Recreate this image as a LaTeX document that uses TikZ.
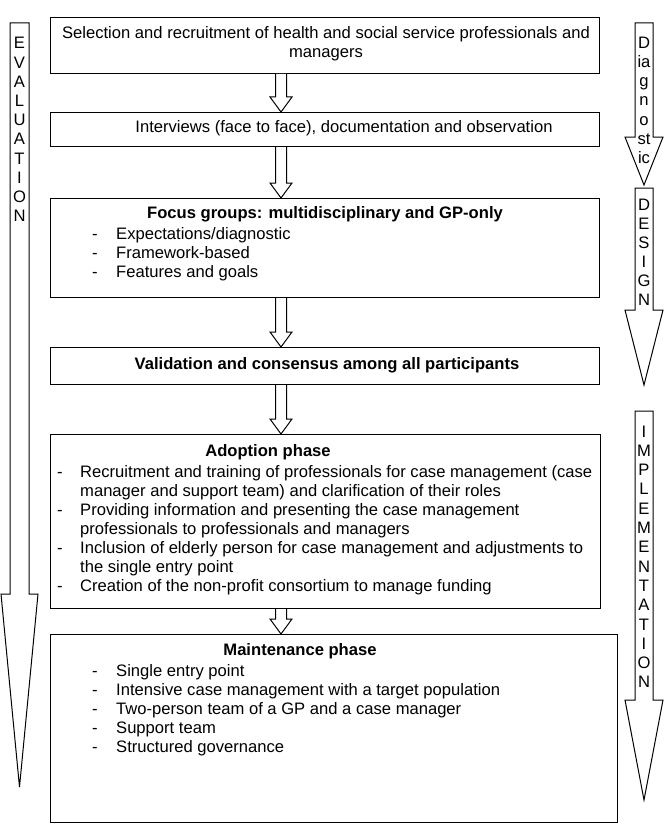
\documentclass[tikz,border=0pt]{standalone}
\usepackage{fontspec}
\setmainfont{Liberation Sans}
\usetikzlibrary{calc}
\newcommand{\fs}{\fontsize{16.6}{19.1}\selectfont}
\tikzset{
  boxst/.style={draw, line width=1pt, inner sep=0pt, anchor=north west},
  txt/.style={inner sep=0pt, font=\fs},
  blk/.style={draw, line width=1pt, fill=white, line join=miter},
}
% hollow block arrow from bottom of node #1 to top of node #2 at x = 281
\newcommand{\blockarr}[2]{%
  \draw[blk] let \p1=(#1.south), \p2=(#2.north) in
    (275.5pt,\y1) -- (275.5pt,\y2+15pt) -- (270pt,\y2+15pt) -- (281pt,\y2)
    -- (292pt,\y2+15pt) -- (286.5pt,\y2+15pt) -- (286.5pt,\y1);
}
\begin{document}
\begin{tikzpicture}[x=1pt,y=-1pt]
\useasboundingbox (0,0) rectangle (664,824);
\fill[white] (0,0) rectangle (664,824);

% ---- boxes
\node[boxst, minimum width=549pt, minimum height=56pt] (b1) at (50,17) {};
\node[boxst, minimum width=549pt, minimum height=34pt] (b2) at (50,112) {};
\node[boxst, minimum width=549pt, minimum height=99pt] (b3) at (50,198) {};
\node[boxst, minimum width=549pt, minimum height=37pt] (b4) at (50,347) {};
\node[boxst, minimum width=550pt, minimum height=174pt] (b5) at (50,434) {};
\node[boxst, minimum width=567pt, minimum height=188pt] (b6) at (50,634) {};

% ---- texts
\node[txt, align=center] (t1) at (326,44)
  {Selection and recruitment of health and social service professionals and\\managers};
\node[txt] (t2) at (344,128) {Interviews (face to face), documentation and observation};
\node[txt, font=\fs\bfseries] (t3) at (325,214) {Focus groups: multidisciplinary and GP-only};
\node[txt, anchor=base west] (t3l) at (92,239) {%
  \begin{tabular}[t]{@{}p{24pt}@{}l@{}}
  -&Expectations/diagnostic\\
  -&Framework-based\\
  -&Features and goals
  \end{tabular}};
\node[txt, font=\fs\bfseries] (t5) at (268,452) {Adoption phase};
\node[txt, font=\fs\bfseries] (t4) at (327,365) {Validation and consensus among all participants};
\node[txt, anchor=base west] (t5l) at (57,477) {%
  \begin{tabular}[t]{@{}p{23pt}@{}l@{}}
  -&Recruitment and training of professionals for case management (case\\
   &manager and support team) and clarification of their roles\\
  -&Providing information and presenting the case management\\
   &professionals to professionals and managers\\
  -&Inclusion of elderly person for case management and adjustments to\\
   &the single entry point\\
  -&Creation of the non-profit consortium to manage funding
  \end{tabular}};
\node[txt, font=\fs\bfseries] (t6) at (300,651) {Maintenance phase};
\node[txt, anchor=base west] (t6l) at (92,676) {%
  \begin{tabular}[t]{@{}p{24pt}@{}l@{}}
  -&Single entry point\\
  -&Intensive case management with a target population\\
  -&Two-person team of a GP and a case manager\\
  -&Support team\\
  -&Structured governance
  \end{tabular}};

% ---- block arrows between boxes
\blockarr{b1}{b2}
\blockarr{b2}{b3}
\blockarr{b3}{b4}
\blockarr{b4}{b5}
\blockarr{b5}{b6}

% ---- side arrows
\draw[blk] (10,23) -- (29,23) -- (29,594) -- (38,594) -- (19.5,787) -- (1,594) -- (10,594) -- cycle;
\foreach \l [count=\i] in {E,V,A,L,U,A,T,I,O,N}
  \node[txt, anchor=base] (ev\i) at (19.5,{49+19.2*(\i-1)}) {\l};

\draw[blk] (635,23) -- (653,23) -- (653,137) -- (663,137) -- (644,185) -- (625,137) -- (635,137) -- cycle;
\foreach \l [count=\i] in {D,ia,g,n,o,st,ic}
  \node[txt, anchor=base] (dg\i) at (644,{49+19*(\i-1)}) {\l};

\draw[blk] (635,188) -- (653,188) -- (653,310) -- (663,310) -- (644,385) -- (625,310) -- (635,310) -- cycle;
\foreach \l [count=\i] in {D,E,S,I,G,N}
  \node[txt, anchor=base] (ds\i) at (644,{210+19*(\i-1)}) {\l};

\draw[blk] (635,411) -- (653,411) -- (653,700) -- (663,700) -- (644,800) -- (625,700) -- (635,700) -- cycle;
\foreach \l [count=\i] in {I,M,P,L,E,M,E,N,T,A,T,I,O,N}
  \node[txt, anchor=base] (im\i) at (644,{437+19.3*(\i-1)}) {\l};
\end{tikzpicture}
\end{document}
